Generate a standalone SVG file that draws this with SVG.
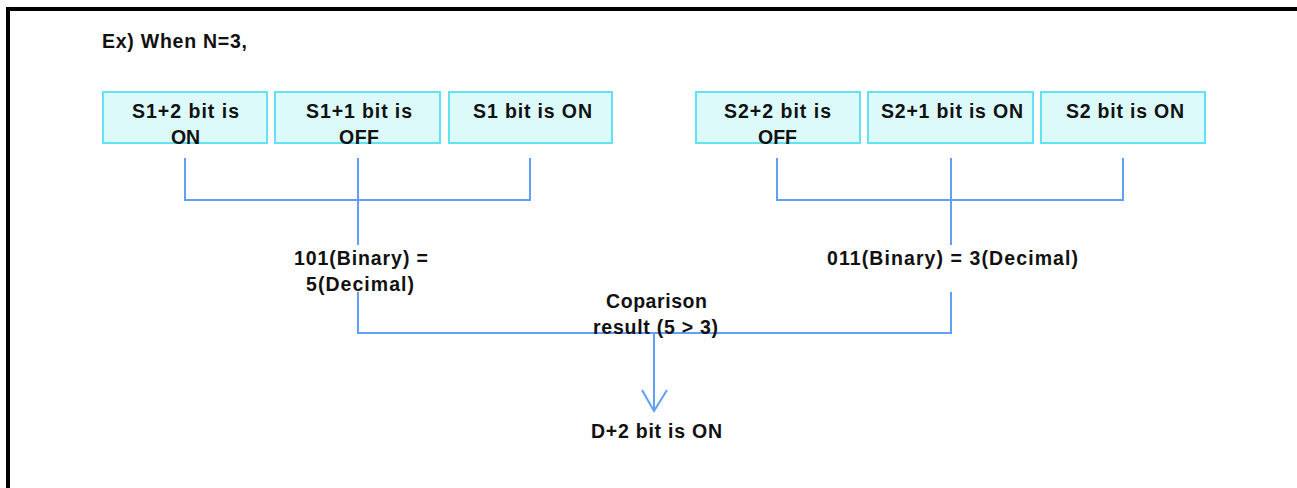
<svg xmlns="http://www.w3.org/2000/svg" width="1297" height="488" viewBox="0 0 1297 488">
<style>
.t{font-family:"Liberation Sans",Arial,sans-serif;font-weight:bold;font-size:19.5px;fill:#111}
.box{fill:#DDFAFA;stroke:#62E2F2;stroke-width:2}
.ln{fill:none;stroke:#62A0F8;stroke-width:2}
</style>
<rect x="0" y="0" width="1297" height="488" fill="#fff"/>
<path d="M8 488 V9 H1297" fill="none" stroke="#000" stroke-width="4"/>
<text class="t" x="102" y="48" textLength="145" lengthAdjust="spacing">Ex) When N=3,</text>
<g id="s1p2"><rect class="box" x="103" y="92" width="164" height="51"/><text class="t" x="132" y="118" textLength="107" lengthAdjust="spacing">S1+2 bit is</text><text class="t" x="171" y="144" textLength="29" lengthAdjust="spacing">ON</text></g>
<g id="s1p1"><rect class="box" x="275" y="92" width="165" height="51"/><text class="t" x="306" y="118" textLength="106" lengthAdjust="spacing">S1+1 bit is</text><text class="t" x="339" y="144" textLength="40" lengthAdjust="spacing">OFF</text></g>
<g id="s1"><rect class="box" x="449" y="92" width="163" height="51"/><text class="t" x="473" y="118" textLength="119" lengthAdjust="spacing">S1 bit is ON</text></g>
<g id="s2p2"><rect class="box" x="696" y="92" width="164" height="51"/><text class="t" x="724" y="118" textLength="107" lengthAdjust="spacing">S2+2 bit is</text><text class="t" x="758" y="144" textLength="39" lengthAdjust="spacing">OFF</text></g>
<g id="s2p1"><rect class="box" x="868" y="92" width="165" height="51"/><text class="t" x="881" y="118" textLength="142" lengthAdjust="spacing">S2+1 bit is ON</text></g>
<g id="s2"><rect class="box" x="1041" y="92" width="164" height="51"/><text class="t" x="1066" y="118" textLength="118" lengthAdjust="spacing">S2 bit is ON</text></g>
<g id="connectors">
<path class="ln" d="M185 158 V200 H530 V158 M358 158 V245 M358 292 V333 H951 V292 M951 245 V158 M777 158 V200 H1123 V158"/>
<path class="ln" d="M654 333 V411 M642 390 L654 411 L667 390"/>
</g>
<g id="bin1"><text class="t" x="294" y="265" textLength="134" lengthAdjust="spacing">101(Binary) =</text><text class="t" x="306" y="291" textLength="108" lengthAdjust="spacing">5(Decimal)</text></g>
<g id="bin2"><text class="t" x="827" y="265" textLength="251" lengthAdjust="spacing">011(Binary) = 3(Decimal)</text></g>
<g id="cmp"><text class="t" x="606" y="308" textLength="101" lengthAdjust="spacing">Coparison</text><text class="t" x="593" y="334" textLength="125" lengthAdjust="spacing">result (5 &gt; 3)</text></g>
<g id="dout"><text class="t" x="591" y="438" textLength="131" lengthAdjust="spacing">D+2 bit is ON</text></g>
</svg>
